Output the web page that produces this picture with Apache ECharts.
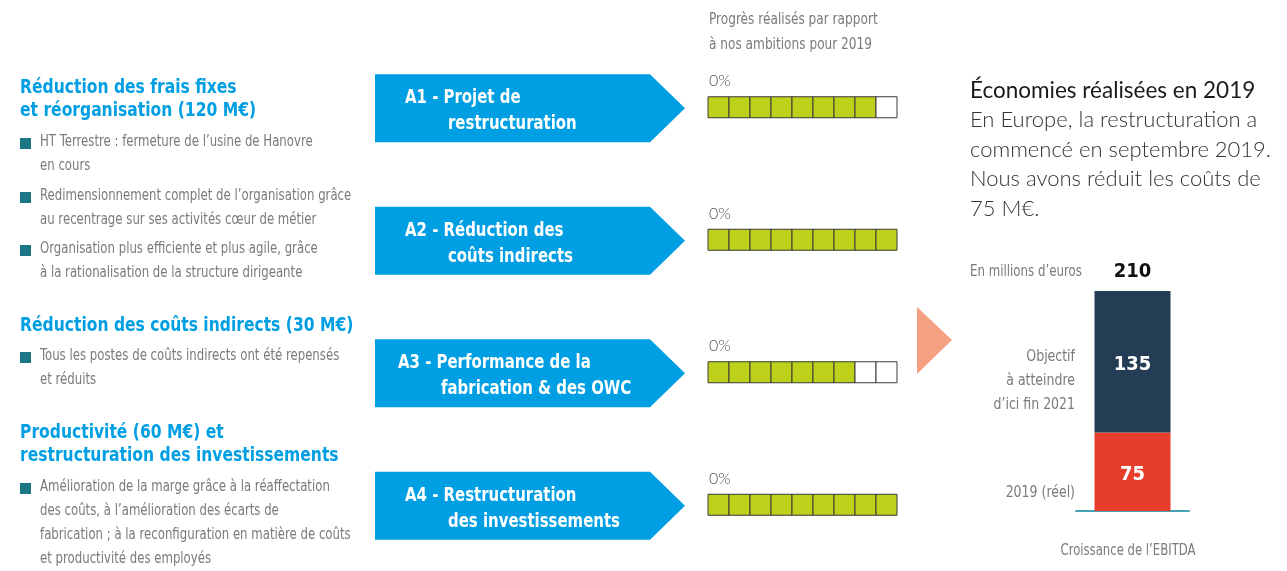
<!DOCTYPE html>
<html><head><meta charset="utf-8">
<script src="https://cdn.jsdelivr.net/npm/echarts@6/dist/echarts.min.js"></script>
<style>html,body{margin:0;padding:0;background:#fff}#c{width:1287px;height:571px}</style>
</head><body><div id="c"></div>
<script>
// ---- data ----
const actionCodes = ['A1', 'A2', 'A3', 'A4'];
const actionLine1 = ['A1 - Projet de', 'A2 - Réduction des', 'A3 - Performance de la', 'A4 - Restructuration'];
const actionLine2 = ['restructuration', 'coûts indirects', 'fabrication & des OWC', 'des investissements'];
const progressLabels = ['0%', '0%', '0%', '0%'];
const filledCells = [8, 9, 7, 9];
const totalCells = 9;
const ebitdaCategory = ['Croissance de l’EBITDA'];
const ebitdaActual2019 = [75];
const ebitdaTarget2021 = [135];

const NARROW = "'Liberation Sans Narrow','DejaVu Sans Condensed',sans-serif";
const LIGHT = "Lato,'Open Sans',sans-serif";
const BLUE = '#009fe3';
const GREEN = '#bdd01a';

const cellData = [];
actionCodes.forEach((c, r) => {
  for (let i = 0; i < totalCells; i++) cellData.push([i, r, i < filledCells[r] ? 1 : 0]);
});
const rowData = actionCodes.map((c, r) => [0, r]);

const chart = echarts.init(document.getElementById('c'), null, {renderer: 'canvas'});

// text helpers
const g = [];
function txt(x, y, s, font, color, align, sx) {
  g.push({type: 'text', x: x, y: y, scaleX: sx || 1,
    style: {text: s, font: font, fill: color, textAlign: align || 'left', textVerticalAlign: 'middle'}});
}
function head(y, s) { txt(20, y, s, "bold 19px " + NARROW, BLUE, 'left', 0.91); }
function bullet(y, lines) {
  g.push({type: 'rect', shape: {x: 20, y: y - 4, width: 11, height: 11}, style: {fill: '#1b7685'}});
  lines.forEach((l, i) => txt(40, y + i * 24, l, "15px " + NARROW, '#7a7a7a', 'left', 0.87));
}
head(88, 'Réduction des frais fixes');
head(111, 'et réorganisation (120 M€)');
bullet(142, ['HT Terrestre : fermeture de l’usine de Hanovre', 'en cours']);
bullet(196, ['Redimensionnement complet de l’organisation grâce', 'au recentrage sur ses activités cœur de métier']);
bullet(249, ['Organisation plus efficiente et plus agile, grâce', 'à la rationalisation de la structure dirigeante']);
head(326, 'Réduction des coûts indirects (30 M€)');
bullet(356, ['Tous les postes de coûts indirects ont été repensés', 'et réduits']);
head(433, 'Productivité (60 M€) et');
head(456, 'restructuration des investissements');
bullet(487, ['Amélioration de la marge grâce à la réaffectation', 'des coûts, à l’amélioration des écarts de', 'fabrication ; à la reconfiguration en matière de coûts', 'et productivité des employés']);

txt(709, 20, 'Progrès réalisés par rapport', "15px " + NARROW, '#7a7a7a', 'left', 0.9);
txt(709, 45, 'à nos ambitions pour 2019', "15px " + NARROW, '#7a7a7a', 'left', 0.9);

// right text
txt(970, 91, 'Économies réalisées en 2019', "22.5px " + LIGHT, '#1a1a1a');
['En Europe, la restructuration a', 'commencé en septembre 2019.', 'Nous avons réduit les coûts de', '75 M€.'].forEach((l, i) =>
  txt(970, 120 + i * 29.5, l, "300 22px " + LIGHT, '#333'));
txt(970, 272, 'En millions d’euros', "15px " + NARROW, '#7a7a7a', 'left', 0.875);
['Objectif', 'à atteindre', 'd’ici fin 2021'].forEach((l, i) => txt(1075, 357 + i * 24, l, "16px " + NARROW, '#7a7a7a', 'right', 0.87));
txt(1075, 493, '2019 (réel)', "16px " + NARROW, '#7a7a7a', 'right', 0.87);
txt(1128, 551, ebitdaCategory[0], "15px " + NARROW, '#7a7a7a', 'center', 0.865);
g.push({type: 'polygon', shape: {points: [[917, 307], [952, 340], [917, 374]]}, style: {fill: '#f4a183'}});

chart.setOption({
  animation: false,
  graphic: g,
  grid: [
    {left: 708, width: 189, top: 41, height: 530},
    {left: 1076, width: 113, top: 291, height: 220}
  ],
  xAxis: [
    {gridIndex: 0, type: 'value', min: 0, max: totalCells, show: false},
    {gridIndex: 1, type: 'category', data: ebitdaCategory,
     axisLine: {lineStyle: {color: '#4aa3b5', width: 2}}, axisTick: {show: false}, axisLabel: {show: false}}
  ],
  yAxis: [
    {gridIndex: 0, type: 'category', data: actionCodes, inverse: true, show: false},
    {gridIndex: 1, type: 'value', min: 0, max: 210, show: false}
  ],
  series: [
    {
      type: 'custom', xAxisIndex: 0, yAxisIndex: 0, clip: false, data: rowData,
      renderItem: function (params, api) {
        const r = api.value(1);
        const c = api.coord([0, r]);
        const cy = c[1] + 1;
        const tipX = c[0] - 23, bodyX = tipX - 35, leftX = 375;
        const ind = r === 2 ? -7 : 0;
        const f = "bold 20px " + NARROW;
        return {type: 'group', children: [
          {type: 'polygon', shape: {points: [[leftX, cy - 34], [bodyX, cy - 34], [tipX, cy], [bodyX, cy + 34], [leftX, cy + 34]]}, style: {fill: BLUE}},
          {type: 'text', x: 405 + ind, y: cy - 10, scaleX: 0.83, style: {text: actionLine1[r], font: f, fill: '#fff', textVerticalAlign: 'middle'}},
          {type: 'text', x: 448 + ind, y: cy + 16, scaleX: 0.83, style: {text: actionLine2[r], font: f, fill: '#fff', textVerticalAlign: 'middle'}},
          {type: 'text', x: c[0] + 1, y: c[1] - 26, style: {text: progressLabels[r], font: "300 16px " + LIGHT, fill: '#555', textVerticalAlign: 'middle'}}
        ]};
      }
    },
    {
      type: 'custom', xAxisIndex: 0, yAxisIndex: 0, clip: false, data: cellData,
      renderItem: function (params, api) {
        const p0 = api.coord([api.value(0), api.value(1)]);
        const p1 = api.coord([api.value(0) + 1, api.value(1)]);
        return {type: 'rect', shape: {x: p0[0], y: p0[1] - 10.5, width: p1[0] - p0[0], height: 21},
          style: {fill: api.value(2) ? GREEN : '#fff', stroke: '#3a3a3a', lineWidth: 1}};
      }
    },
    {
      name: '2019 (réel)', type: 'bar', xAxisIndex: 1, yAxisIndex: 1, stack: 'e', barWidth: 76,
      data: ebitdaActual2019, itemStyle: {color: '#e63e2b'},
      label: {show: true, position: 'inside', offset: [0, 3], color: '#fff', fontFamily: NARROW, fontWeight: 'bold', fontSize: 20}
    },
    {
      name: 'Objectif', type: 'bar', xAxisIndex: 1, yAxisIndex: 1, stack: 'e', barWidth: 76,
      data: ebitdaTarget2021, itemStyle: {color: '#253c55'},
      label: {show: true, position: 'inside', offset: [0, 3], color: '#fff', fontFamily: NARROW, fontWeight: 'bold', fontSize: 20}
    },
    {
      name: 'Total', type: 'bar', xAxisIndex: 1, yAxisIndex: 1, stack: 'e', barWidth: 76,
      data: ebitdaActual2019.map(() => 0), itemStyle: {color: 'transparent'},
      label: {show: true, position: 'top', distance: 9, color: '#111', fontFamily: NARROW, fontWeight: 'bold', fontSize: 20,
        formatter: p => String(ebitdaActual2019[p.dataIndex] + ebitdaTarget2021[p.dataIndex])}
    }
  ]
});
</script></body></html>
